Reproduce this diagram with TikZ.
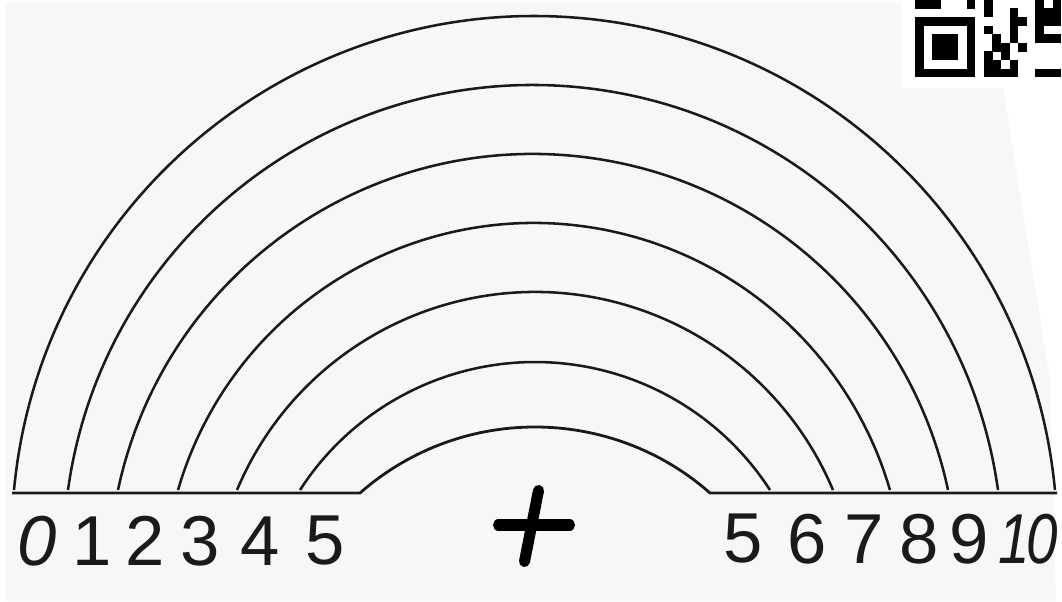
\documentclass[tikz,border=0pt]{standalone}
\usepackage{fontspec}
\setmainfont{Liberation Sans}
\definecolor{ink}{HTML}{1A1A1A}
\definecolor{paper}{HTML}{F7F7F7}
\begin{document}
\begin{tikzpicture}[x=0.75pt,y=-0.75pt,
  arcline/.style={line width=1.9pt, draw=ink, line join=round},
  digit/.style={font=\fontsize{53}{60}\selectfont, text=ink, inner sep=0pt},
  plusline/.style={line width=8.3pt, draw=black, line cap=round},
  qrmod/.style={fill=black}]
\useasboundingbox (0,0) rectangle (1062,601);
% paper
\fill[white] (0,0) rectangle (1062,601);
\fill[paper] (5,3) -- (901,3) -- (901,88) -- (1003,88) -- (1050,380) -- (1056,601) -- (5,601) -- cycle;
% rainbow arcs (left end x, right end x, top y, end y)
\foreach \xl/\xr/\yt/\ye in {14/1055/16/490, 68/998/85/490, 118/948/154/490, 178/890/223/490, 237/833/292/490, 300/770/362/490}{
  \pgfmathsetmacro\w{(\xr-\xl)/200}
  \pgfmathsetmacro\h{(\ye-\yt)/100}
  \pgfmathsetmacro\r{(\w*\w+\h*\h)/(2*\h)}
  \pgfmathsetmacro\a{atan((\r-\h)/\w)}
  \pgfmathsetmacro\R{100*\r}
  \draw[arcline] (\xl,\ye) arc[start angle=180+\a, end angle=360-\a, radius=\R];
}
% innermost arc joined to the base lines
\pgfmathsetmacro\w{(710-360)/200}
\pgfmathsetmacro\h{(493-427)/100}
\pgfmathsetmacro\r{(\w*\w+\h*\h)/(2*\h)}
\pgfmathsetmacro\a{atan((\r-\h)/\w)}
\pgfmathsetmacro\R{100*\r}
\coordinate (bl) at (12,493);
\coordinate (ml) at (360,493);
\coordinate (br) at (1057,493);
\draw[arcline, line width=2.1pt] (bl) -- (ml) arc[start angle=180+\a, end angle=360-\a, radius=\R] -- (br);
% labels
\node[digit] (l0) at (37,541) {\itshape 0};
\node[digit] (l1) at (92,541) {1};
\node[digit] (l2) at (145,541) {2};
\node[digit] (l3) at (200,541) {3};
\node[digit] (l4) at (260,541) {4};
\node[digit] (l5) at (325,541) {5};
\node[digit] (r5) at (743,539) {5};
\node[digit] (r6) at (807,539) {6};
\node[digit] (r7) at (864,539) {7};
\node[digit] (r8) at (919,539) {8};
\node[digit] (r9) at (969,539) {9};
\node[digit] (r10) at (1028,539) {\scalebox{0.8}[1]{\itshape 1\kern-3pt0}};
% plus sign
\coordinate (ph1) at (498.5,525);
\coordinate (ph2) at (569.5,525);
\coordinate (pv1) at (538.5,490.5);
\coordinate (pv2) at (524.5,561.5);
\draw[plusline] (ph1) -- (ph2);
\draw[plusline] (pv1) -- (pv2);
% QR code fragment
\fill[qrmod] (915,17) rectangle (975.2,77.2);
\fill[white] (923.6,25.6) rectangle (966.6,68.6);
\fill[qrmod] (932.2,34.2) rectangle (958,60);
\foreach \c/\r in {0/-2,1/-2,2/-2,6/-2,
  8/-2,14/-2,16/-2,
  8/-1,11/-1,14/-1,15/-1,16/-1,
  11/0,12/0,14/0,15/0,16/0,
  8/1,11/1,14/1,
  9/2,11/2,14/2,15/2,16/2,
  9/3,10/3,12/3,
  8/4,10/4,
  8/5,9/5,11/5,
  8/6,9/6,10/6,11/6,14/6,15/6,16/6}{
  \fill[qrmod] (915+8.6*\c, 17+8.6*\r) rectangle ++(8.8,8.8);
}
\end{tikzpicture}
\end{document}
